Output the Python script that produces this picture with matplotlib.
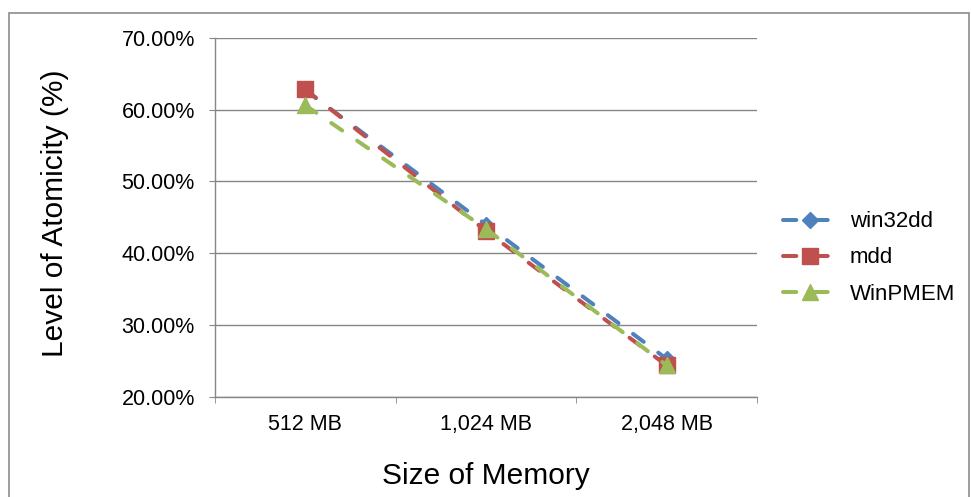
import matplotlib
matplotlib.use("Agg")
import matplotlib.pyplot as plt
from matplotlib.patches import Rectangle
from matplotlib.ticker import FixedLocator, FuncFormatter

plt.rcParams['font.family'] = ['Liberation Sans', 'DejaVu Sans']

memory_sizes = ["512 MB", "1,024 MB", "2,048 MB"]
win32dd = [62.7, 44.0, 25.3]
mdd = [62.8, 43.1, 24.4]
winpmem = [60.6, 43.4, 24.4]

series = [
    ("win32dd", win32dd, "#4F81BD", "D", 8),
    ("mdd", mdd, "#C0504D", "s", 11),
    ("WinPMEM", winpmem, "#9BBB59", "^", 12),
]

fig = plt.figure(figsize=(9.71, 4.97), dpi=100)
fig.patches.append(Rectangle((9 / 971, -0.01), 960 / 971, 1.01 - 13 / 497,
                             transform=fig.transFigure, fill=False,
                             edgecolor="#8c8c8c", linewidth=1.2))

ax = fig.add_axes([0.2214, 0.2012, 0.5582, 0.7229])
x = list(range(len(memory_sizes)))
for name, vals, color, marker, ms in series:
    ax.plot(x, vals, color=color, linewidth=2.9, linestyle=(0, (3.3, 4.5)),
            marker=marker, markersize=ms, markerfacecolor=color,
            markeredgecolor=color, label=name, dash_capstyle="round")

ax.set_xlim(-0.5, 2.5)
ax.set_ylim(20, 70)
ax.set_yticks([20, 30, 40, 50, 60, 70])
ax.yaxis.set_major_formatter(FuncFormatter(lambda v, _: f"{v:.2f}%"))
ax.set_xticks(x)
ax.set_xticklabels(memory_sizes)
ax.xaxis.set_minor_locator(FixedLocator([-0.5, 0.5, 1.5, 2.5]))
ax.tick_params(axis="x", which="major", length=0, pad=12, labelsize=15.5)
ax.tick_params(axis="x", which="minor", length=4.5, color="#868686")
ax.tick_params(axis="y", length=4.5, color="#868686", labelsize=15.5, pad=10)

ax.grid(axis="y", color="#868686", linewidth=1)
ax.set_axisbelow(True)
for side in ("top", "right"):
    ax.spines[side].set_visible(False)
for side in ("left", "bottom"):
    ax.spines[side].set_color("#868686")
    ax.spines[side].set_linewidth(1)

ax.set_xlabel("Size of Memory", fontsize=21.5, va="center")
ax.xaxis.set_label_coords(0.5, -0.22)
ax.set_ylabel("Level of Atomicity (%)", fontsize=21.5, va="center")
ax.yaxis.set_label_coords(-0.295, 0.5125)

ax.legend(loc="center left", bbox_to_anchor=(1.048, 0.387), frameon=False,
          fontsize=16, handlelength=2.45, labelspacing=0.68, handletextpad=0.55,
          borderpad=0, borderaxespad=0)

fig.savefig("out.png", dpi=100)
